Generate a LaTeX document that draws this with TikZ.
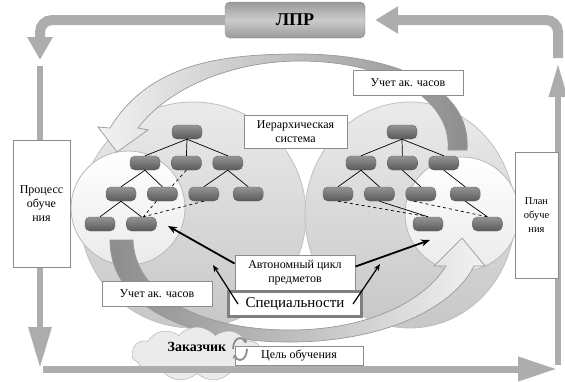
\documentclass[tikz,border=0pt]{standalone}
\usepackage{fontspec}
\setmainfont{Liberation Serif}
\usetikzlibrary{positioning,arrows.meta,shapes.symbols}
\tikzset{
  frame/.style={draw=black!32},
  disc/.style={draw=black!25, line width=0.8pt, top color=black!8, bottom color=black!22},
  lens/.style={draw=black!28, line width=0.8pt, top color=white, bottom color=black!8},
  band/.style={draw=black!40, line width=0.7pt},
  blk/.style={rectangle, rounded corners=5pt, minimum width=30pt, minimum height=14pt, inner sep=0pt, draw=black!60, top color=black!42, bottom color=black!65},
  txt/.style={rectangle, draw=black!45, line width=1pt, fill=white, align=center, inner sep=1pt, font=\fontsize{12}{14}\selectfont},
  link/.style={black, line width=0.7pt},
  xlink/.style={black, line width=0.7pt, dashed},
  bold arrow/.style={black, line width=1.8pt, -{Stealth[length=9pt,width=7pt]}},
  thin arrow/.style={black, line width=1.2pt, -{Stealth[length=7pt,width=5.5pt]}}
}
\begin{document}
\begin{tikzpicture}[x=1pt, y=-1pt, node distance=11pt]
\useasboundingbox (0,0) rectangle (565,381);

% decision maker and the outer loop
\node[rectangle, rounded corners=5pt, minimum width=140pt, minimum height=36pt, draw=black!45,
  top color=black!40, bottom color=black!40, middle color=black!20,
  font=\fontsize{18}{20}\selectfont\bfseries] (lpr) at (295,20) {ЛПР};
\coordinate (tl) at (40,60);
\coordinate (ltop) at (40,66);
\coordinate (lbot) at (40,368);
\coordinate (bl) at (43,369);
\coordinate (br) at (557,369);
\coordinate (rbot) at (558,365);
\coordinate (rtop) at (558,63);
\coordinate (tr) at (558,58);
\draw[frame, line width=10pt, rounded corners=12pt, -{Triangle[width=24pt,length=23pt]}] (lpr.west) -| (tl);
\draw[frame, line width=10pt, rounded corners=12pt, -{Triangle[width=26pt,length=23pt]}] (tr) |- ([xshift=10pt]lpr.east);
\draw[frame, line width=6pt, -{Triangle[width=22pt,length=41pt]}] (ltop) -- (lbot);
\draw[frame, line width=6pt, -{Triangle[width=17pt,length=34pt]}] (rbot) -- (rtop);

% discs
\draw[disc] (193,215) circle[radius=113];
\draw[disc] (410,215) ellipse[x radius=105, y radius=113];
\draw[lens] (128,208) circle[radius=57];
\draw[lens] (462,214) circle[radius=57];

% curved arrows
\draw[band, left color=black!5, right color=black!45]
  (110,128) .. controls (150,62) and (225,54) .. (300,54)
  .. controls (390,54) and (472,85) .. (467,150) -- (448,150)
  .. controls (452,98) and (385,61) .. (300,61)
  .. controls (232,61) and (168,88) .. (138,128)
  -- (148,130) -- (117,152) -- (98,127) -- cycle;
\draw[band, left color=black!45, right color=black!5]
  (110,240) .. controls (110,312) and (200,342) .. (290,342)
  .. controls (380,342) and (452,310) .. (474,266)
  -- (485,266) -- (462,238) -- (434,266) -- (446,266)
  .. controls (425,300) and (370,330) .. (290,330)
  .. controls (200,330) and (135,295) .. (133,240) -- cycle;

% left hierarchy
\node[blk] (la) at (187,132) {};
\node[blk] (lb1) at (145,163) {};
\node[blk, right=of lb1] (lb2) {};
\node[blk, right=of lb2] (lb3) {};
\node[blk] (lc1) at (121,194) {};
\node[blk, right=of lc1] (lc2) {};
\node[blk, right=of lc2] (lc3) {};
\node[blk, right=14pt of lc3] (lc4) {};
\node[blk] (ld1) at (100,224) {};
\node[blk, right=of ld1] (ld2) {};
\foreach \c in {lb1,lb2,lb3} \draw[link] (la.south) -- (\c.north);
\draw[link] (lb1.south) -- (lc1.north);
\draw[link] (lb1.south) -- (lc2.north);
\draw[link] (lb3.south) -- (lc3.north);
\draw[link] (lb3.south) -- (lc4.north);
\draw[link] (lc1.south) -- (ld1.north);
\draw[link] (lc1.south) -- (ld2.north);
\draw[xlink] (lb2.south) -- ([xshift=9pt]lc2.north);
\draw[xlink] ([xshift=-6pt]lc2.south) -- ([xshift=2pt]ld2.north);
\draw[xlink] (lc3.south) -- ([xshift=2pt]ld2.north);

% right hierarchy
\node[blk] (ra) at (402,132) {};
\node[blk] (rb1) at (361,163) {};
\node[blk, right=of rb1] (rb2) {};
\node[blk, right=of rb2] (rb3) {};
\node[blk] (rc1) at (338,194) {};
\node[blk, right=of rc1] (rc2) {};
\node[blk, right=of rc2] (rc3) {};
\node[blk, right=14pt of rc3] (rc4) {};
\node[blk] (rd1) at (428,224) {};
\node[blk, right=29pt of rd1] (rd2) {};
\foreach \c in {rb1,rb2,rb3} \draw[link] (ra.south) -- (\c.north);
\draw[link] (rb1.south) -- (rc1.north);
\draw[link] (rb1.south) -- (rc2.north);
\draw[link] (rb2.south) -- (rc3.north);
\draw[link] (rb3.south) -- (rc4.north);
\draw[link] (rc2.south) -- (rd1.north);
\draw[link] (rc4.south) -- (rd2.north);
\draw[xlink] (rc1.south) -- (rd1.north);
\draw[xlink] ([xshift=-7pt]rc3.south) -- (rd2.north);

% labels
\node[txt, minimum width=103pt, minimum height=33pt] (hier) at (295.5,131.5) {Иерархическая\\система};
\node[txt, minimum width=110pt, minimum height=25pt] (hrsT) at (408,82.5) {Учет ак. часов};
\node[txt, minimum width=110pt, minimum height=25pt] (hrsB) at (157,293.5) {Учет ак. часов};
\node[txt, minimum width=120pt, minimum height=35pt, font=\fontsize{12}{14.5}\selectfont] (auto) at (295,272.5) {Автономный цикл\\предметов};
\node[txt, draw=black!50, line width=3pt, minimum width=133pt, minimum height=25pt,
  font=\fontsize{15}{17}\selectfont] (spec) at (295,304) {Специальности};
\node[txt, minimum width=57pt, minimum height=127pt] (proc) at (41.5,203.5) {Процесс\\обуче\\ния};
\node[txt, minimum width=43pt, minimum height=126pt, font=\fontsize{10.5}{14}\selectfont] (plan) at (536.5,215) {План\\обуче\\ния};

\coordinate (aimL) at (168,226);
\coordinate (aimR) at (430,240);
\coordinate (specL) at (213,265);
\coordinate (specR) at (380,264);
\draw[bold arrow] ([yshift=9pt]auto.west) -- (aimL);
\draw[bold arrow] ([yshift=6pt]auto.east) -- (aimR);
\draw[thin arrow] ([xshift=11pt]spec.west) -- (specL);
\draw[thin arrow] ([xshift=-10pt]spec.east) -- (specR);

% customer
\node[cloud, cloud puffs=11, cloud puff arc=100, aspect=2.5, draw=black!35, fill=black!8,
  minimum width=130pt, minimum height=54pt, inner sep=0pt] (cust) at (197,354) {};
\draw[frame, line width=7pt, -{Triangle[width=23pt,length=39pt]}] (bl) -- (br);
\node[txt, minimum width=128pt, minimum height=19pt, inner sep=0pt] (goal) at (299,355.5) {Цель обучения};
\node[font=\fontsize{14}{16}\selectfont\bfseries] (custtxt) at (197,347) {Заказчик};
\coordinate (loop) at (240,349);
\draw[black!45, line width=1.8pt, -{Stealth[length=4pt,width=5pt]}] ([shift={(7,0)}]loop) arc[start angle=0, end angle=150, x radius=7, y radius=11];
\draw[black!45, line width=1.8pt, -{Stealth[length=4pt,width=5pt]}] ([shift={(-7,0)}]loop) arc[start angle=180, end angle=330, x radius=7, y radius=11];
\end{tikzpicture}
\end{document}
